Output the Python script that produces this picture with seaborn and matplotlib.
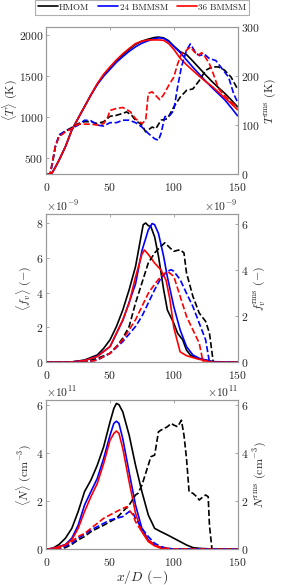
import matplotlib
matplotlib.use("Agg")
import matplotlib.pyplot as plt
import matplotlib.ticker as mticker
from matplotlib.lines import Line2D
import numpy as np
import seaborn as sns

# ---------------- data ----------------
labels = ["HMOM", "24 BMMSM", "36 BMMSM"]
colors = ["#000000", "#0000ff", "#ff0000"]

# Panel 1: mean temperature (K)
T_x = [0, 4, 7, 10, 15, 20, 25, 30, 35, 40, 45, 50, 55, 60, 65, 70, 75, 80, 85, 88, 92, 96,
       100, 105, 110, 115, 120, 125, 130, 135, 140, 145, 150]
T_hmom = [300, 300, 380, 470, 635, 840, 984, 1127, 1270, 1400, 1510, 1600, 1690, 1760, 1830, 1890,
          1930, 1955, 1975, 1980, 1970, 1935, 1870, 1800, 1765, 1685, 1600, 1515, 1435, 1360, 1290,
          1210, 1125]
T_24 = [300, 300, 380, 470, 635, 840, 984, 1127, 1270, 1400, 1500, 1585, 1670, 1740, 1805, 1860,
        1905, 1935, 1960, 1970, 1965, 1925, 1865, 1790, 1700, 1610, 1525, 1440, 1360, 1285, 1210,
        1115, 1015]
T_36 = [300, 300, 380, 470, 635, 840, 984, 1127, 1270, 1410, 1525, 1615, 1700, 1775, 1840, 1900,
        1930, 1945, 1945, 1945, 1940, 1900, 1830, 1720, 1640, 1570, 1500, 1435, 1375, 1305, 1235,
        1165, 1090]

# Panel 1: rms temperature (K)
Trms_x_hmom = [0, 3, 5, 7, 10, 15, 20, 25, 30, 35, 40, 45, 50, 55, 60, 63, 67, 70, 75, 78, 80, 83,
               86, 90, 95, 100, 105, 110, 115, 120, 125, 130, 135, 140, 145, 150]
Trms_hmom = [0, 0, 25, 55, 78, 88, 95, 103, 107, 107, 103, 107, 118, 120, 124, 127, 120, 110, 100,
             86, 90, 96, 93, 110, 113, 137, 157, 171, 174, 191, 212, 219, 219, 212, 198, 174]
Trms_x_24 = [0, 3, 5, 7, 10, 15, 20, 25, 30, 35, 40, 45, 50, 55, 60, 65, 70, 75, 80, 85, 88, 90,
             93, 97, 100, 103, 106, 110, 113, 117, 120, 124, 128, 133, 138, 143, 147, 150]
Trms_24 = [0, 0, 25, 55, 80, 88, 93, 100, 110, 109, 100, 98, 105, 105, 110, 110, 105, 96, 83, 72,
           69, 83, 117, 120, 130, 178, 219, 253, 266, 249, 242, 245, 236, 232, 215, 198, 164, 147]
Trms_x_36 = [0, 3, 5, 7, 10, 15, 20, 25, 30, 35, 40, 45, 48, 50, 55, 60, 63, 66, 70, 75, 78, 80,
             83, 86, 89, 92, 96, 100, 103, 106, 110, 113, 116, 119, 122, 125, 128, 131, 135, 140,
             145, 150]
Trms_36 = [0, 0, 28, 56, 76, 86, 93, 102, 102, 102, 100, 103, 115, 130, 134, 136, 132, 127, 113,
           103, 110, 165, 168, 160, 152, 162, 181, 198, 225, 245, 253, 260, 250, 243, 248, 238, 225,
           205, 175, 160, 147, 137]

# Panel 2: soot volume fraction (x 1e-9)
FV_SCALE = 1e-9
fv_x_hmom = [0, 20, 30, 40, 45, 50, 55, 60, 65, 70, 73, 76, 78, 80, 82, 85, 88, 92, 95, 100, 103,
             107, 110, 113, 118, 125, 132, 150]
fv_hmom = [0, 0.02, 0.13, 0.42, 0.8, 1.29, 2.05, 3.0, 4.17, 5.5, 6.7, 7.9, 8.0, 7.85, 7.8, 7.2,
           6.1, 4.2, 3.0, 2.25, 1.67, 1.29, 0.7, 0.42, 0.23, 0.13, 0, 0]
fv_x_24 = [0, 20, 30, 40, 50, 60, 70, 75, 80, 83, 85, 88, 92, 95, 100, 105, 110, 115, 120, 125,
           130, 150]
fv_24 = [0, 0.02, 0.1, 0.35, 0.9, 2.4, 4.5, 6.4, 7.6, 7.97, 7.9, 7.4, 6.1, 4.9, 3.2, 1.86, 0.9,
         0.42, 0.23, 0.13, 0.04, 0]
fv_x_36 = [0, 20, 30, 40, 50, 60, 65, 70, 75, 77, 80, 85, 90, 94, 97, 100, 105, 110, 115, 120,
           126, 131, 150]
fv_36 = [0, 0.02, 0.1, 0.33, 0.9, 2.44, 3.4, 4.9, 6.2, 6.45, 6.2, 5.7, 5.3, 4.7, 3.6, 2.0, 0.6,
         0.38, 0.27, 0.17, 0.08, 0, 0]

fvrms_x_hmom = [0, 30, 40, 50, 55, 60, 65, 70, 75, 80, 85, 90, 93, 97, 100, 105, 108, 110, 115,
                120, 125, 128, 131, 150]
fvrms_hmom = [0, 0, 0.17, 0.39, 0.68, 1.05, 1.56, 2.58, 3.45, 4.32, 4.76, 5.05, 5.2, 4.98, 4.83,
              4.9, 4.76, 3.89, 2.87, 2.14, 1.78, 1.27, 0, 0]
fvrms_x_24 = [0, 30, 40, 50, 60, 70, 75, 80, 85, 90, 95, 98, 100, 105, 110, 115, 120, 125, 128,
              150]
fvrms_24 = [0, 0, 0.1, 0.39, 0.9, 1.56, 2.0, 2.58, 3.16, 3.67, 3.96, 4.03, 3.96, 3.6, 3.0, 2.43,
            1.7, 0.98, 0, 0]
fvrms_x_36 = [0, 30, 40, 50, 60, 70, 75, 80, 85, 90, 95, 100, 105, 110, 115, 120, 123, 150]
fvrms_36 = [0, 0, 0.1, 0.39, 0.98, 1.85, 2.43, 3.0, 3.4, 3.74, 3.96, 3.74, 2.87, 2.0, 1.41, 0.83,
            0, 0]

# Panel 3: soot number density (x 1e11 cm^-3)
N_SCALE = 1e11
N_x_hmom = [0, 5, 10, 15, 20, 25, 30, 35, 40, 45, 50, 53, 55, 57, 60, 65, 70, 75, 80, 85, 90, 95,
            100, 105, 110, 115, 120, 130, 150]
N_hmom = [0, 0.04, 0.2, 0.46, 0.87, 1.57, 2.4, 2.88, 3.5, 4.27, 5.3, 5.86, 6.07, 6.02, 5.72, 4.75,
          3.5, 2.4, 1.43, 0.87, 0.73, 0.6, 0.46, 0.32, 0.18, 0.07, 0.04, 0.01, 0]
N_x_24 = [0, 5, 10, 15, 20, 25, 30, 35, 40, 45, 50, 53, 55, 57, 60, 65, 70, 75, 80, 85, 90, 100,
          150]
N_24 = [0, 0.04, 0.11, 0.2, 0.46, 1.0, 1.84, 2.4, 2.95, 3.78, 4.75, 5.24, 5.33, 5.24, 4.6, 3.2,
        1.84, 0.87, 0.39, 0.18, 0.07, 0.01, 0]
N_x_36 = [0, 5, 10, 15, 20, 25, 30, 35, 40, 45, 50, 53, 55, 57, 60, 65, 70, 75, 80, 85, 90, 100,
          150]
N_36 = [0, 0.04, 0.11, 0.18, 0.39, 0.87, 1.57, 2.19, 2.74, 3.57, 4.54, 4.82, 4.92, 4.82, 4.2,
        2.81, 1.5, 0.73, 0.32, 0.14, 0.04, 0, 0]

Nrms_x_hmom = [0, 10, 15, 20, 25, 30, 35, 40, 45, 50, 55, 60, 65, 70, 72, 75, 80, 82, 85, 88, 90,
               95, 98, 100, 103, 106, 108, 110, 112, 115, 118, 120, 123, 125, 127, 128, 130, 150]
Nrms_hmom = [0, 0.01, 0.07, 0.2, 0.39, 0.53, 0.73, 0.87, 1.0, 1.15, 1.29, 1.57, 1.84, 2.26, 2.33,
             2.67, 3.5, 3.85, 3.92, 4.89, 4.96, 5.1, 5.24, 5.17, 5.1, 5.37, 4.75, 3.78, 2.4, 2.33,
             2.19, 2.05, 2.19, 2.26, 2.19, 1.0, 0, 0]
Nrms_x_24 = [0, 10, 20, 25, 30, 35, 40, 45, 50, 55, 60, 65, 68, 70, 75, 80, 85, 90, 95, 100, 150]
Nrms_24 = [0, 0.01, 0.25, 0.46, 0.62, 0.8, 0.94, 1.08, 1.22, 1.29, 1.36, 1.57, 1.5, 1.29, 0.87,
           0.53, 0.25, 0.11, 0.04, 0.01, 0]
Nrms_x_36 = [0, 10, 15, 20, 25, 30, 35, 40, 45, 50, 55, 60, 63, 65, 68, 70, 75, 80, 85, 90, 100,
             150]
Nrms_36 = [0, 0.04, 0.18, 0.32, 0.53, 0.66, 0.87, 1.08, 1.29, 1.43, 1.57, 1.7, 1.77, 1.63, 1.43,
           1.15, 0.73, 0.39, 0.18, 0.07, 0.01, 0]

x_ticks = [0, 50, 100, 150]

# ---------------- style ----------------
sns.set_style("white")
plt.rcParams["font.family"] = ["cmr10", "DejaVu Serif"]
plt.rcParams["mathtext.fontset"] = "cm"
plt.rcParams["axes.formatter.use_mathtext"] = True
plt.rcParams["axes.unicode_minus"] = False
FS = 8.4
LFS = 8.6
LEGFS = 6.5
SPINE = "#9a9a9a"
TXT = "#262626"
LW = 1.2

W, H = 283, 585
fig = plt.figure(figsize=(W / 100, H / 100), dpi=100)


def box(top, bottom, left=46.3, right=237.5):
    return [left / W, 1 - bottom / H, (right - left) / W, (bottom - top) / H]


def style(ax, twin):
    for s in ax.spines.values():
        s.set_color(SPINE)
        s.set_linewidth(0.8)
    ax.set_xlim(0, 150)
    ax.set_xticks(x_ticks)
    ax.tick_params(direction="in", length=2.5, width=0.6, color=SPINE,
                   labelsize=FS, labelcolor=TXT, top=True, pad=2)
    ax.tick_params(axis="x", pad=5)
    twin.tick_params(direction="in", length=2.5, width=0.6, color=SPINE,
                     labelsize=FS, labelcolor=TXT, pad=2.5)
    twin.tick_params(axis="x", top=False, bottom=False, labelbottom=False)
    for s in twin.spines.values():
        s.set_color(SPINE)
        s.set_linewidth(0.8)
    ax.set_facecolor("none")
    ax.grid(False)
    twin.grid(False)


def draw(ax, xs, ys, scale=1.0, dashed=False):
    for x, y, c in zip(xs, ys, colors):
        sns.lineplot(x=x, y=np.asarray(y) * scale, ax=ax, color=c, linewidth=LW,
                     linestyle="--" if dashed else "-", estimator=None, sort=False,
                     legend=False)


# Panel 1
ax1 = fig.add_axes(box(27.3, 174.0))
tw1 = ax1.twinx()
draw(ax1, [T_x, T_x, T_x], [T_hmom, T_24, T_36])
draw(tw1, [Trms_x_hmom, Trms_x_24, Trms_x_36], [Trms_hmom, Trms_24, Trms_36], dashed=True)
ax1.set_ylim(300, 2100)
ax1.set_yticks([500, 1000, 1500, 2000])
tw1.set_ylim(0, 300)
tw1.set_yticks([0, 100, 200, 300])
style(ax1, tw1)
ax1.set_ylabel(r"$\langle T\rangle$ $(\mathrm{K})$", fontsize=LFS, color=TXT, labelpad=0)
tw1.set_ylabel(r"$T^{\mathrm{rms}}$ $(\mathrm{K})$", fontsize=LFS, color=TXT, labelpad=2)

# Panel 2
ax2 = fig.add_axes(box(214.3, 362.3))
tw2 = ax2.twinx()
draw(ax2, [fv_x_hmom, fv_x_24, fv_x_36], [fv_hmom, fv_24, fv_36], FV_SCALE)
draw(tw2, [fvrms_x_hmom, fvrms_x_24, fvrms_x_36], [fvrms_hmom, fvrms_24, fvrms_36], FV_SCALE,
     dashed=True)
ax2.set_ylim(0, 8.5e-9)
ax2.set_yticks(np.array([0, 2, 4, 6, 8]) * 1e-9)
tw2.set_ylim(0, 6.44e-9)
tw2.set_yticks(np.array([0, 2, 4, 6]) * 1e-9)
style(ax2, tw2)
ax2.set_ylabel(r"$\langle f_v\rangle$ $(-)$", fontsize=LFS, color=TXT, labelpad=2)
tw2.set_ylabel(r"$f_v^{\mathrm{rms}}$ $(-)$", fontsize=LFS, color=TXT, labelpad=2)

# Panel 3
ax3 = fig.add_axes(box(400.3, 549.3))
tw3 = ax3.twinx()
draw(ax3, [N_x_hmom, N_x_24, N_x_36], [N_hmom, N_24, N_36], N_SCALE)
draw(tw3, [Nrms_x_hmom, Nrms_x_24, Nrms_x_36], [Nrms_hmom, Nrms_24, Nrms_36], N_SCALE,
     dashed=True)
ax3.set_ylim(0, 6.2e11)
ax3.set_yticks(np.array([0, 2, 4, 6]) * 1e11)
tw3.set_ylim(0, 6.2e11)
tw3.set_yticks(np.array([0, 2, 4, 6]) * 1e11)
style(ax3, tw3)
ax3.set_ylabel(r"$\langle N\rangle$ $(\mathrm{cm}^{-3})$", fontsize=LFS, color=TXT,
               labelpad=2)
tw3.set_ylabel(r"$N^{\mathrm{rms}}$ $(\mathrm{cm}^{-3})$", fontsize=LFS, color=TXT,
               labelpad=2)
ax3.set_xlabel(r"$x/D$ $(-)$", fontsize=LFS + 1.2, color=TXT, labelpad=0)

for a in (ax2, tw2, ax3, tw3):
    fmt = mticker.ScalarFormatter(useMathText=True)
    fmt.set_powerlimits((0, 0))
    a.yaxis.set_major_formatter(fmt)
    a.yaxis.get_offset_text().set_fontsize(FS)
    a.yaxis.get_offset_text().set_color(TXT)

# Legend
handles = [Line2D([], [], color=c, lw=LW) for c in colors]
leg = fig.legend(handles, labels, loc="upper center", bbox_to_anchor=(142 / W, 1.0), ncol=3,
                 fontsize=LEGFS, frameon=True, fancybox=False, edgecolor=SPINE,
                 handlelength=2.2, handletextpad=0.15, columnspacing=1.0, borderpad=0.35,
                 borderaxespad=0.0)
leg.get_frame().set_linewidth(0.8)
for t in leg.get_texts():
    t.set_color(TXT)

fig.savefig("out.png", dpi=100)
